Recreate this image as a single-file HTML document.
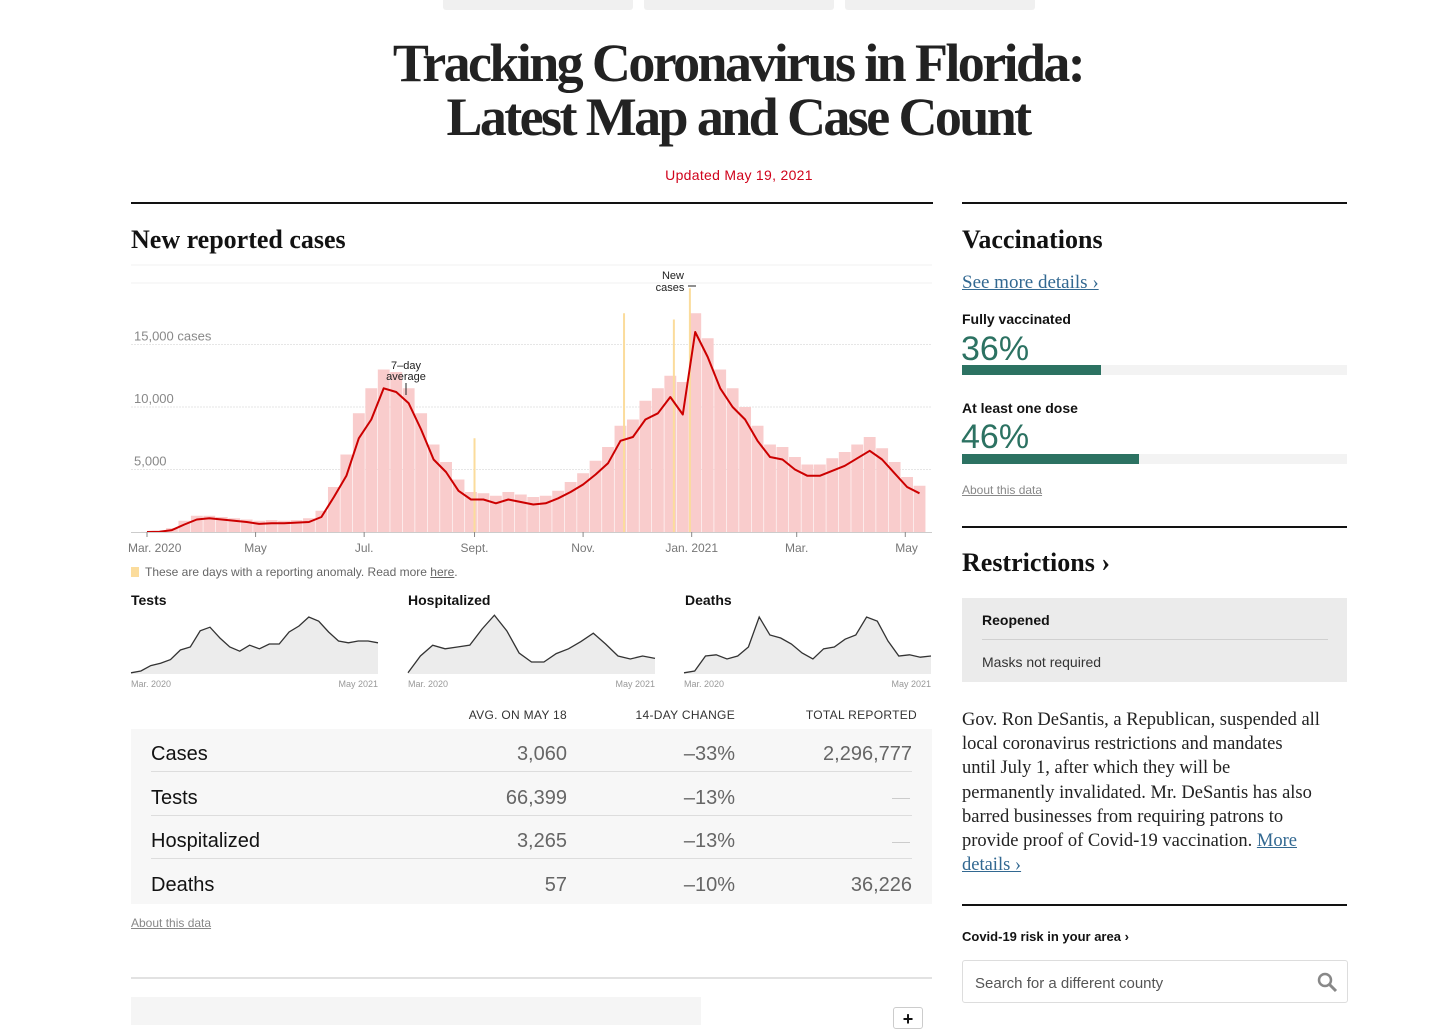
<!DOCTYPE html>
<html><head><meta charset="utf-8">
<style>
*{box-sizing:border-box;margin:0;padding:0}
body{width:1456px;height:1025px;overflow:hidden;background:#fff;position:relative;font-family:"Liberation Sans",sans-serif;color:#121212}
.a{position:absolute}
.serif{font-family:"Liberation Serif",serif}
.tab{top:0;height:10px;width:190px;background:#f0f0f0;border-radius:0 0 3px 3px}
.rule{height:2px;background:#121212}
.row{left:131px;width:801px;height:43px;background:#f7f7f7}
.rl{font-size:20px;color:#121212;left:20px;top:12px}
.rv{font-size:20px;color:#666;top:12px;text-align:right}
.sep{height:1px;background:#ddd}
.hd{font-size:12px;color:#333;letter-spacing:0.3px;top:708px;text-align:right}
</style></head><body>
<div class="a tab" style="left:443px"></div>
<div class="a tab" style="left:644px"></div>
<div class="a tab" style="left:845px"></div>

<div class="a serif" style="left:0;width:1476px;top:36px;text-align:center;font-size:54px;font-weight:bold;line-height:54px;letter-spacing:-2.6px;color:#222">Tracking Coronavirus in Florida:<br>Latest Map and Case Count</div>
<div class="a" style="left:0;width:1478px;top:167px;text-align:center;font-size:14px;color:#d0021b;letter-spacing:0.3px">Updated May 19, 2021</div>

<div class="a rule" style="left:131px;top:202px;width:802px"></div>
<div class="a serif" style="left:131px;top:225px;font-size:26px;font-weight:bold">New reported cases</div>

<svg class="a" style="left:0;top:0" width="940" height="700" id="main"></svg>

<div class="a" style="left:131px;top:567px;width:8px;height:10px;background:#fbdc9c"></div>
<div class="a" style="left:145px;top:565px;font-size:12px;color:#666">These are days with a reporting anomaly. Read more <u>here</u>.</div>

<div class="a" style="left:131px;top:592px;font-size:14px;font-weight:bold">Tests</div>
<div class="a" style="left:408px;top:592px;font-size:14px;font-weight:bold">Hospitalized</div>
<div class="a" style="left:685px;top:592px;font-size:14px;font-weight:bold">Deaths</div>
<svg class="a" style="left:0;top:600px" width="940" height="95" id="small"></svg>

<div class="a hd" style="right:889px">AVG. ON MAY 18</div>
<div class="a hd" style="right:721px">14-DAY CHANGE</div>
<div class="a hd" style="right:539px">TOTAL REPORTED</div>

<div class="a row" style="top:729px;height:175px"></div>
<div class="a" style="left:131px;top:729px;width:801px;height:175px">
 <div class="a rl" style="top:14px">Cases</div><div class="a rv" style="right:365px;top:14px">3,060</div><div class="a rv" style="right:197px;top:14px">–33%</div><div class="a rv" style="right:20px;top:14px">2,296,777</div>
 <div class="a sep" style="left:20px;top:42px;width:761px"></div>
 <div class="a rl" style="top:58px">Tests</div><div class="a rv" style="right:365px;top:58px">66,399</div><div class="a rv" style="right:197px;top:58px">–13%</div><div class="a" style="right:22px;top:69px;width:18px;height:1px;background:#ccc"></div>
 <div class="a sep" style="left:20px;top:86px;width:761px"></div>
 <div class="a rl" style="top:101px">Hospitalized</div><div class="a rv" style="right:365px;top:101px">3,265</div><div class="a rv" style="right:197px;top:101px">–13%</div><div class="a" style="right:22px;top:113px;width:18px;height:1px;background:#ccc"></div>
 <div class="a sep" style="left:20px;top:129px;width:761px"></div>
 <div class="a rl" style="top:145px">Deaths</div><div class="a rv" style="right:365px;top:145px">57</div><div class="a rv" style="right:197px;top:145px">–10%</div><div class="a rv" style="right:20px;top:145px">36,226</div>
</div>
<div class="a" style="left:131px;top:916px;font-size:12px;color:#888;text-decoration:underline">About this data</div>
<div class="a" style="left:131px;top:977px;width:801px;height:2px;background:#e2e2e2"></div>
<div class="a" style="left:131px;top:997px;width:570px;height:28px;background:#f5f5f5"></div>
<div class="a" style="left:893px;top:1007px;width:30px;height:22px;border:1px solid #ccc;border-radius:3px;font-size:18px;font-weight:bold;text-align:center;line-height:22px">+</div>

<!-- right column -->
<div class="a rule" style="left:962px;top:202px;width:385px"></div>
<div class="a serif" style="left:962px;top:225px;font-size:26px;font-weight:bold">Vaccinations</div>
<div class="a serif" style="left:962px;top:272px;font-size:19px;color:#326891;text-decoration:underline">See more details ›</div>
<div class="a" style="left:962px;top:311px;font-size:14px;font-weight:bold">Fully vaccinated</div>
<div class="a" style="left:961px;top:330px;font-size:34px;color:#2c7262">36%</div>
<div class="a" style="left:962px;top:365px;width:385px;height:10px;background:#f3f3f3"><div style="width:139px;height:10px;background:#2c7262"></div></div>
<div class="a" style="left:962px;top:400px;font-size:14px;font-weight:bold">At least one dose</div>
<div class="a" style="left:961px;top:418px;font-size:34px;color:#2c7262">46%</div>
<div class="a" style="left:962px;top:454px;width:385px;height:10px;background:#f3f3f3"><div style="width:177px;height:10px;background:#2c7262"></div></div>
<div class="a" style="left:962px;top:483px;font-size:12px;color:#888;text-decoration:underline">About this data</div>

<div class="a" style="left:962px;top:526px;width:385px;height:2px;background:#121212"></div>
<div class="a serif" style="left:962px;top:548px;font-size:26px;font-weight:bold">Restrictions ›</div>
<div class="a" style="left:962px;top:598px;width:385px;height:84px;background:#ebebeb">
 <div class="a" style="left:20px;top:14px;font-size:14px;font-weight:bold">Reopened</div>
 <div class="a" style="left:20px;top:41px;width:346px;height:1px;background:#d0d0d0"></div>
 <div class="a" style="left:20px;top:56px;font-size:14px;color:#333">Masks not required</div>
</div>
<div class="a serif" style="left:962px;top:708px;width:400px;white-space:nowrap;font-size:18.5px;line-height:24.2px;color:#222">Gov. Ron DeSantis, a Republican, suspended all<br>local coronavirus restrictions and mandates<br>until July 1, after which they will be<br>permanently invalidated. Mr. DeSantis has also<br>barred businesses from requiring patrons to<br>provide proof of Covid-19 vaccination. <span style="color:#326891;text-decoration:underline">More</span><br><span style="color:#326891;text-decoration:underline">details ›</span></div>
<div class="a" style="left:962px;top:904px;width:385px;height:2px;background:#121212"></div>
<div class="a" style="left:962px;top:929px;font-size:13px;font-weight:bold">Covid-19 risk in your area ›</div>
<div class="a" style="left:962px;top:960px;width:386px;height:43px;border:1px solid #ddd;border-radius:3px">
 <div class="a" style="left:12px;top:14px;font-size:15px;color:#555">Search for a different county</div>
 <svg class="a" style="left:354px;top:11px" width="22" height="22"><circle cx="8" cy="8" r="6" fill="none" stroke="#888" stroke-width="2.5"/><line x1="12.5" y1="12.5" x2="19" y2="19" stroke="#888" stroke-width="3"/></svg>
</div>

<script>
// weekly 7-day averages starting Mar 1 2020
const avgCases=[0,20,150,600,1000,1100,1000,900,800,650,700,700,750,800,1200,2800,4500,7500,9000,11500,11200,10300,8200,5800,4800,3300,2600,2600,2300,2600,2400,2200,2300,2700,3200,3800,4600,5500,7300,7600,9000,9500,10800,9400,16000,14000,11500,10000,9000,7300,6000,5800,5000,4500,4500,4900,5300,5900,6500,5800,4700,3600,3100];
const barCases=[10,60,300,900,1300,1300,1200,1100,1000,900,950,900,950,1100,1700,3600,6200,9500,11500,13000,12800,11500,9500,7000,5600,4200,3200,3100,2900,3200,3000,2800,2900,3300,4000,4700,5700,6800,8500,9000,10500,11500,12500,12000,17500,15500,13000,11500,10000,8500,7000,6800,6000,5400,5400,5900,6400,7000,7600,6700,5600,4400,3700];
const anomalyDays=[184,268,296,305];
const anomalyValues=[7500,17500,17000,19500];
const tickLabels=["Mar. 2020","May","Jul.","Sept.","Nov.","Jan. 2021","Mar.","May"];
const tickDays=[0,61,122,184,245,306,365,426];
const yTicks=[5000,10000,15000];
const yTickLabels=["5,000","10,000","15,000 cases"];

const NS="http://www.w3.org/2000/svg";
function mk(parent,tag,attrs){const e=document.createElementNS(NS,tag);for(const k in attrs)e.setAttribute(k,attrs[k]);parent.appendChild(e);return e;}
const svg=document.getElementById('main');
const X=d=>147+d*1.78;
const Y=v=>532-v*62.5/5000;
[0,1].forEach(i=>{mk(svg,'line',{x1:131,x2:932,y1:265+i*18,y2:265+i*18,stroke:'#f2f2f2'});});
yTicks.forEach((t,i)=>{
 const l=mk(svg,'line',{x1:131,x2:932,y1:Y(t),y2:Y(t),stroke:'#e6e6e6','stroke-dasharray':'2,1'});
 
 
 const tx=mk(svg,'text',{x:134,y:Y(t)-4,'font-size':13,fill:'#888','font-family':'Liberation Sans'});
 tx.textContent=yTickLabels[i];
 
 
});
barCases.forEach((v,i)=>{
 const x0=X(i*7),w=7*1.78;
 const r=mk(svg,'rect',{x:x0-w/2+0.3,y:Y(v),width:w-0.6,height:532-Y(v),fill:'#f9cccc'});
 
 
});
anomalyDays.forEach((d,i)=>{
 const r=mk(svg,'rect',{x:X(d)-1,y:Y(anomalyValues[i]),width:2,height:532-Y(anomalyValues[i]),fill:'#fbdc9c'});
 
 
});
let p='';avgCases.forEach((v,i)=>{p+=(i?'L':'M')+X(i*7).toFixed(1)+','+Y(v).toFixed(1);});
const line=mk(svg,'path',{d:p,fill:'none',stroke:'#c00','stroke-width':2,'stroke-linejoin':'round'});


mk(svg,'line',{x1:131,x2:932,y1:532.5,y2:532.5,stroke:'#ccc'});
tickDays.forEach((d,i)=>{
 mk(svg,'line',{x1:X(d),x2:X(d),y1:532,y2:537,stroke:'#888'});
 const t=mk(svg,'text',{x:i==0?128:X(d)-(i==7?10:0),y:552,'font-size':12,fill:'#777','font-family':'Liberation Sans','text-anchor':i==0?'start':(i==7?'start':'middle')});
 t.textContent=tickLabels[i];
 
 
});
[['7–day',406,369],['average',406,380],['New',673,279],['cases',670,291]].forEach(a=>{
 const t=mk(svg,'text',{x:a[1],y:a[2],'font-size':11,fill:'#222','text-anchor':'middle','font-family':'Liberation Sans'});
 t.textContent=a[0];
 
 
});
mk(svg,'line',{x1:406,x2:406,y1:383,y2:395,stroke:'#222'});
mk(svg,'line',{x1:688,x2:696,y1:286,y2:286,stroke:'#222'});

const testsVals=[0.02,0.05,0.14,0.18,0.24,0.4,0.45,0.72,0.78,0.6,0.45,0.38,0.48,0.42,0.5,0.5,0.7,0.8,0.95,0.88,0.7,0.55,0.52,0.55,0.55,0.52];
const hospVals=[0.02,0.3,0.48,0.42,0.45,0.48,0.75,0.98,0.72,0.35,0.2,0.2,0.34,0.42,0.54,0.68,0.5,0.3,0.25,0.3,0.26];
const deathVals=[0.02,0.05,0.3,0.32,0.25,0.3,0.45,0.95,0.65,0.6,0.5,0.35,0.25,0.42,0.45,0.58,0.65,0.95,0.88,0.55,0.3,0.32,0.28,0.3];
const sm=document.getElementById('small');
[[testsVals,131,'tests'],[hospVals,408,'hospitalized'],[deathVals,684,'deaths']].forEach(([vals,x0,n])=>{
 const w=247,top=14,h=60,base=top+h;
 const xs=i=>x0+i*w/(vals.length-1), ys=v=>base-v*h;
 let d='';vals.forEach((v,i)=>{d+=(i?'L':'M')+xs(i).toFixed(1)+','+ys(v).toFixed(1);});
 const a=mk(sm,'path',{d:d+'L'+(x0+w)+','+base+'L'+x0+','+base+'Z',fill:'#ececec'});
 
 
 const l=mk(sm,'path',{d:d,fill:'none',stroke:'#333','stroke-width':1.3});
 
 
 const t1=mk(sm,'text',{x:x0,y:87,'font-size':9,fill:'#999','font-family':'Liberation Sans'});t1.textContent='Mar. 2020';
 
 
 const t2=mk(sm,'text',{x:x0+w,y:87,'font-size':9,fill:'#999','text-anchor':'end','font-family':'Liberation Sans'});t2.textContent='May 2021';
 
 
});
</script>
</body></html>
